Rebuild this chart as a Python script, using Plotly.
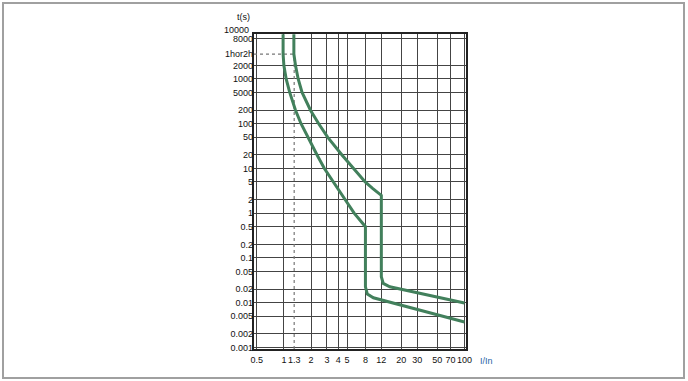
import math
import plotly.graph_objects as go

# ---- data ----
x_grid_vals = [0.5, 1, 2, 3, 4, 5, 8, 12, 20, 30, 50, 70, 100]
x_label_vals = [0.5, 1, 1.3, 2, 3, 4, 5, 8, 12, 20, 30, 50, 70, 100]
x_label_text = ["0.5", "1", "1.3", "2", "3", "4", "5", "8", "12", "20", "30", "50", "70", "100"]

y_grid_vals = [10000, 8000, 2000, 1000, 500, 200, 100, 50, 20, 10, 5, 2, 1, 0.5,
               0.2, 0.1, 0.05, 0.02, 0.01, 0.005, 0.002, 0.001]
y_label_vals = [8000, 3600, 2000, 1000, 500, 200, 100, 50, 20, 10, 5, 2, 1, 0.5,
                0.2, 0.1, 0.05, 0.02, 0.01, 0.005, 0.002, 0.001]
y_label_text = ["8000", "1hor2h", "2000", "1000", "5000", "200", "100", "50", "20", "10",
                "5", "2", "1", "0.5", "0.2", "0.1", "0.05", "0.02", "0.01", "0.005",
                "0.002", "0.001"]
y_top_label = "10000"
y_top_value = 10000

lower_I = [0.98, 0.98, 1.0, 1.06, 1.16, 1.345, 1.55, 1.84, 2.33, 2.81, 3.5, 4.78, 6.0,
           8.0, 8.0, 8.4, 9.8, 12.1, 100]
lower_t = [10000, 3600, 2000, 1000, 500, 200, 100, 50, 20, 10, 5, 2, 1,
           0.5, 0.0227, 0.0156, 0.0129, 0.0115, 0.0037]

upper_I = [1.29, 1.29, 1.345, 1.44, 1.59, 1.97, 2.43, 3.05, 4.4, 5.9, 7.95, 9.6, 12,
           12, 12.6, 14.9, 100]
upper_t = [10000, 3600, 2000, 1000, 500, 200, 100, 50, 20, 10, 5, 3.6, 2.5,
           0.038, 0.027, 0.0227, 0.0098]

ref_I = 1.3
ref_t = 3600
x_min, x_max = 0.5, 100
y_min = 0.001

# ---- figure ----
W, H = 688, 381
ML, MR, MT, MB = 254, 222, 34, 32
PW, PH = W - ML - MR, H - MT - MB

GREEN = "#42805c"
FONT = "Liberation Sans, Arial, sans-serif"

xr = [math.log10(x_min) - 0.030, math.log10(x_max) + 0.017]
yr = [math.log10(y_min) - 0.035, math.log10(y_top_value) + 0.005]

fig = go.Figure()

# dotted reference lines
fig.add_trace(go.Scatter(x=[ref_I, ref_I], y=[10 ** yr[0], ref_t], mode="lines",
                         line=dict(color="#777777", width=1.2, dash="dot"),
                         hoverinfo="skip", showlegend=False))
fig.add_trace(go.Scatter(x=[10 ** xr[0], ref_I], y=[ref_t, ref_t], mode="lines",
                         line=dict(color="#777777", width=1.2, dash="dot"),
                         hoverinfo="skip", showlegend=False))

fig.add_trace(go.Scatter(x=lower_I, y=lower_t, mode="lines",
                         line=dict(color=GREEN, width=3), showlegend=False))
fig.add_trace(go.Scatter(x=upper_I, y=upper_t, mode="lines",
                         line=dict(color=GREEN, width=3), showlegend=False))

# invisible trace for label axes
fig.add_trace(go.Scatter(x=[1], y=[1], xaxis="x2", yaxis="y2", mode="markers",
                         marker=dict(opacity=0), hoverinfo="skip", showlegend=False))

tickfont = dict(family=FONT, size=9, color="#111111")

fig.update_layout(
    width=W, height=H,
    margin=dict(l=ML, r=MR, t=MT, b=MB, autoexpand=False),
    paper_bgcolor="white", plot_bgcolor="white",
    xaxis=dict(type="log", range=xr, tickvals=x_grid_vals, showticklabels=False,
               showgrid=True, gridcolor="#444444", gridwidth=1.2, zeroline=False,
               showline=True, linecolor="#222222", linewidth=1.5, mirror=True, ticks=""),
    yaxis=dict(type="log", range=yr, tickvals=y_grid_vals, showticklabels=False,
               showgrid=True, gridcolor="#444444", gridwidth=1.2, zeroline=False,
               showline=True, linecolor="#222222", linewidth=1.5, mirror=True, ticks=""),
    xaxis2=dict(type="log", range=xr, overlaying="x", anchor="y2", side="bottom",
                tickvals=x_label_vals, ticktext=x_label_text, showgrid=False,
                zeroline=False, ticks="", tickfont=tickfont, showline=False,
                tickangle=0, ticklabelstandoff=4),
    yaxis2=dict(type="log", range=yr, overlaying="y", anchor="x2", side="left",
                tickvals=y_label_vals, ticktext=y_label_text, showgrid=False,
                zeroline=False, ticks="", tickfont=tickfont, showline=False),
    showlegend=False,
)

def px_to_paper_x(px):
    return (px - ML) / PW

def px_to_paper_y(py):
    return (H - MB - py) / PH

fig.add_annotation(x=px_to_paper_x(251), xref="paper", xanchor="right", yanchor="middle",
                   y=math.log10(y_top_value), yref="y", yshift=4,
                   text=y_top_label, showarrow=False, font=tickfont)
fig.add_annotation(x=px_to_paper_x(243), y=px_to_paper_y(17), xref="paper", yref="paper",
                   xanchor="center", yanchor="middle",
                   text="t(s)", showarrow=False, font=tickfont)
fig.add_annotation(x=px_to_paper_x(486), y=px_to_paper_y(361), xref="paper", yref="paper",
                   xanchor="center", yanchor="middle", text="I/In", showarrow=False,
                   font=dict(family=FONT, size=9, color="#2b5fa8"))

# outer frame
fig.add_shape(type="rect", xref="paper", yref="paper",
              x0=px_to_paper_x(3), x1=px_to_paper_x(684),
              y0=px_to_paper_y(378), y1=px_to_paper_y(3),
              line=dict(color="#a0a0a0", width=2), layer="below")

fig.write_html("out.html", config={"displayModeBar": False},
               post_script="document.body.style.margin='0px';")
